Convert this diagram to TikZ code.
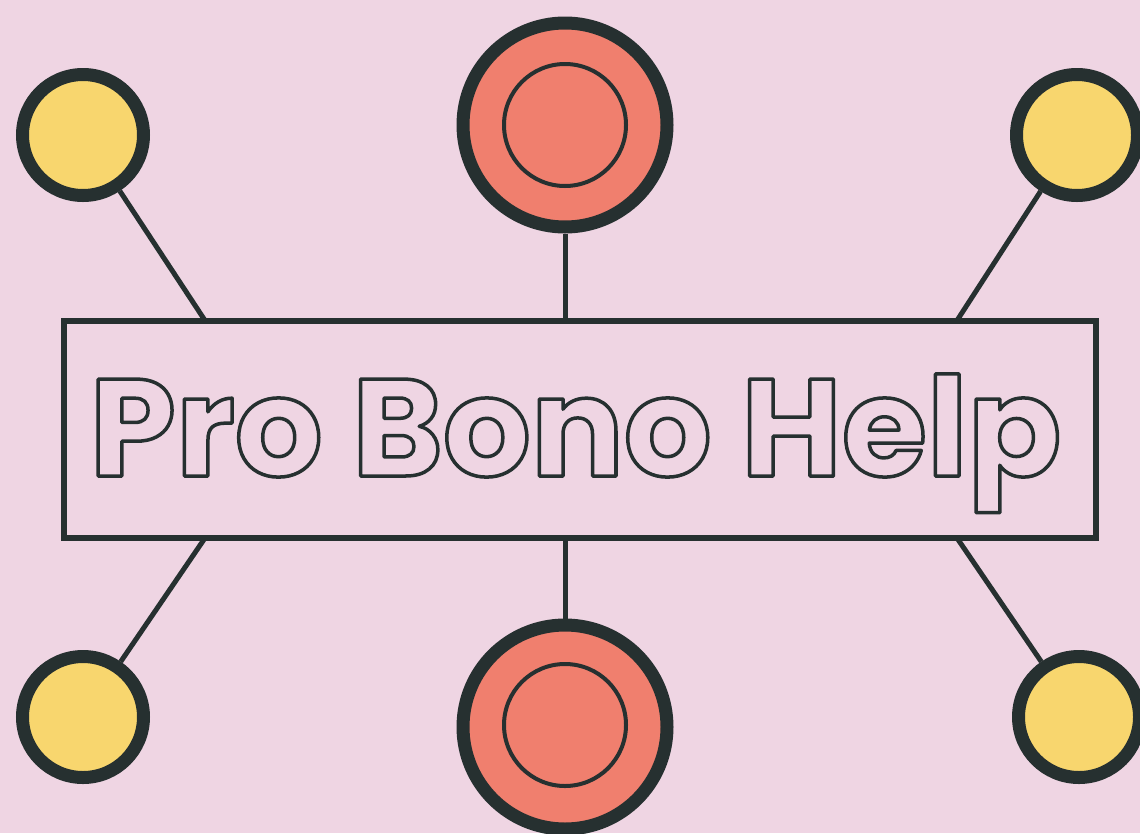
\documentclass[tikz,border=0pt]{standalone}
\usepackage{fontspec}
\newfontfamily\titlefont{Poppins}
\definecolor{bgpink}{HTML}{EFD5E3}
\definecolor{sun}{HTML}{F8D66E}
\definecolor{coral}{HTML}{F07F6E}
\definecolor{ink}{HTML}{263030}
\newcommand{\outlinetext}[1]{\special{pdf:literal 1 Tr 3.5 w 1 j 0.149 0.188 0.188 RG}#1\special{pdf:literal 0 Tr}}
\tikzset{
  smallball/.style={circle, draw=ink, fill=sun, line width=13pt, minimum size=121pt, inner sep=0pt},
  bigball/.style={circle, draw=ink, fill=coral, line width=13pt, minimum size=204pt, inner sep=0pt},
  innerring/.style={circle, draw=ink, line width=4pt, minimum size=122pt, inner sep=0pt},
  link/.style={draw=ink, line width=5pt},
  titlebox/.style={draw=ink, line width=6pt, minimum width=1032pt, minimum height=217.5pt, inner sep=0pt}
}
\begin{document}
\begin{tikzpicture}[x=1pt,y=-1pt]
\fill[bgpink] (0,0) rectangle (1140,833);
\useasboundingbox (0,0) rectangle (1140,833);
\node[titlebox] (box) at (580,429.25) {};
\node[smallball] (y1) at (83,135) {};
\node[smallball] (y2) at (1077,135) {};
\node[smallball] (y3) at (83,717) {};
\node[smallball] (y4) at (1079,717) {};
\node[bigball] (r1) at (565,125) {};
\node[innerring] (r1i) at (565,125) {};
\node[bigball] (r2) at (565,727) {};
\node[innerring] (r2i) at (565,725) {};
\coordinate (c1) at (205,320.5);
\coordinate (c2) at (957,320.5);
\coordinate (c3) at (205,538);
\coordinate (c4) at (957,538);
\draw[link] (y1) -- (c1);
\draw[link] (y2) -- (c2);
\draw[link] (y3) -- (c3);
\draw[link] (y4) -- (c4);
\draw[link] (r1) -- (r1 |- box.north);
\draw[link] (r2) -- (r2 |- box.south);
\node[anchor=base, inner sep=0pt, font=\titlefont\bfseries\fontsize{138}{145}\selectfont] (title) at (575.5,476) {\outlinetext{Pro Bono Help}};
\end{tikzpicture}
\end{document}
